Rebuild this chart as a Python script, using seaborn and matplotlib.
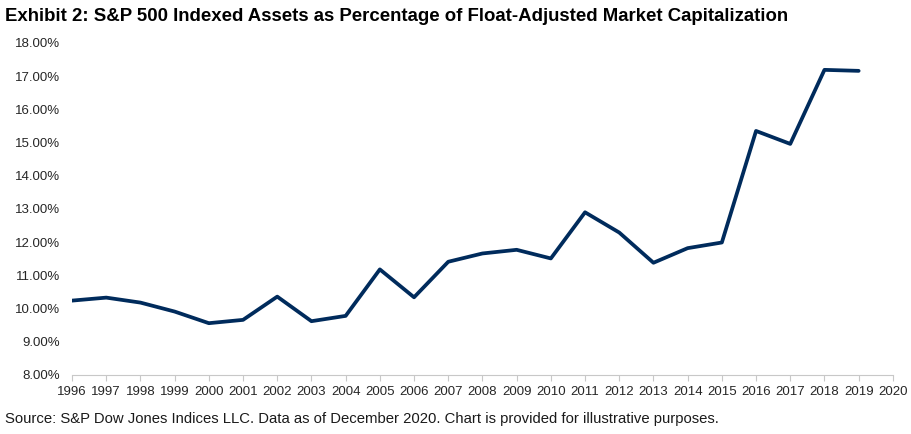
import pandas as pd
import matplotlib.pyplot as plt
import matplotlib.ticker as mticker
import seaborn as sns

# S&P 500 indexed assets as % of float-adjusted market cap
years = list(range(1996, 2020))
pct_indexed = [10.24, 10.33, 10.18, 9.91, 9.56, 9.66, 10.36, 9.62, 9.78, 11.18,
               10.34, 11.41, 11.66, 11.77, 11.51, 12.90, 12.29, 11.38, 11.82, 11.99,
               15.35, 14.96, 17.19, 17.16]
x_ticks = list(range(1996, 2021))
y_ticks = [8, 9, 10, 11, 12, 13, 14, 15, 16, 17, 18]

data = pd.DataFrame({"Year": years, "Pct": pct_indexed})

sns.set_style("white")
plt.rcParams['font.family'] = ['Liberation Sans', 'DejaVu Sans']

fig = plt.figure(figsize=(9.12, 4.34), dpi=100)
ax = fig.add_axes([0.079, 0.136, 0.900, 0.765])

sns.lineplot(data=data, x="Year", y="Pct", color="#002b5c", linewidth=2.7,
             ax=ax, solid_capstyle="round")

ax.set_xlim(1996, 2020)
ax.set_ylim(8, 18)
ax.set_xticks(x_ticks)
ax.set_yticks(y_ticks)
ax.yaxis.set_major_formatter(mticker.FuncFormatter(lambda v, p: f"{v:.2f}%"))
ax.set_xlabel("")
ax.set_ylabel("")

for side in ["top", "right", "left"]:
    ax.spines[side].set_visible(False)
ax.spines["bottom"].set_color("#c8c8c8")
ax.spines["bottom"].set_linewidth(0.8)

ax.tick_params(axis="x", bottom=True, direction="out", length=4, width=0.8,
               color="#c8c8c8", labelsize=9.5, labelcolor="#262626", pad=4)
ax.tick_params(axis="y", left=False, labelsize=9.5, labelcolor="#262626", pad=5)

fig.text(0.006, 0.962, "Exhibit 2: S&P 500 Indexed Assets as Percentage of Float-Adjusted Market Capitalization",
         fontsize=13.4, fontweight="bold", color="black", va="center", ha="left")
fig.text(0.006, 0.035, "Source: S&P Dow Jones Indices LLC. Data as of December 2020. Chart is provided for illustrative purposes.",
         fontsize=10.7, color="#1a1a1a", va="center", ha="left")

fig.savefig("out.png", dpi=100)
